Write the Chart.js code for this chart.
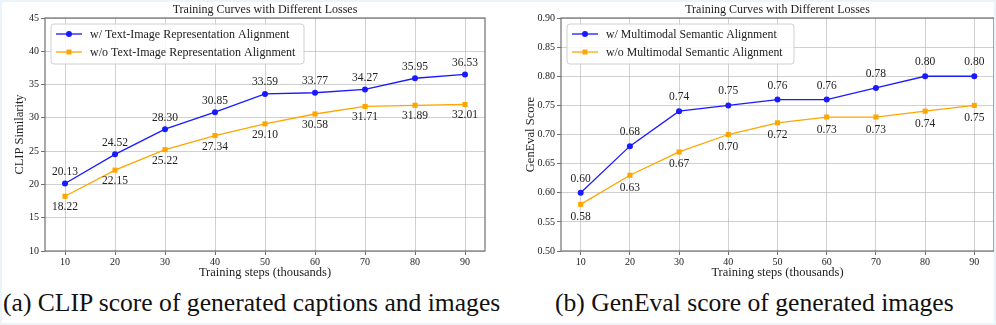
<!DOCTYPE html>
<html>
<head>
<meta charset="utf-8">
<script src="https://cdn.jsdelivr.net/npm/chart.js@4.4.1/dist/chart.umd.min.js"></script>
<style>
  html, body { margin: 0; padding: 0; background: #fff; }
  #frame { position: relative; width: 996px; height: 325px; box-sizing: border-box; border: 2px solid #eaf5fb; overflow: hidden; }
  .box { position: absolute; top: 0; height: 285px; }
  #boxA { left: 0; width: 496px; }
  #boxB { left: 496px; width: 500px; }
  .cap { position: absolute; top: 286px; font-family: "Liberation Serif", "Times New Roman", serif; font-size: 25.6px; color: #111; white-space: nowrap; }
  #capA { left: 1px; }
  #capB { left: 553px; }
</style>
</head>
<body>
<div id="frame">
  <div class="box" id="boxA"><canvas id="chartA"></canvas></div>
  <div class="box" id="boxB"><canvas id="chartB"></canvas></div>
  <div class="cap" id="capA">(a) CLIP score of generated captions and images</div>
  <div class="cap" id="capB">(b) GenEval score of generated images</div>
</div>
<script>
const steps = [10, 20, 30, 40, 50, 60, 70, 80, 90];

const clipWith = [20.13, 24.52, 28.30, 30.85, 33.59, 33.77, 34.27, 35.95, 36.53];
const clipWithout = [18.22, 22.15, 25.22, 27.34, 29.10, 30.58, 31.71, 31.89, 32.01];

const genevalWith = [0.60, 0.68, 0.74, 0.75, 0.76, 0.76, 0.78, 0.80, 0.80];
const genevalWithout = [0.58, 0.63, 0.67, 0.70, 0.72, 0.73, 0.73, 0.74, 0.75];

const FONT = "'Liberation Serif', 'Times New Roman', serif";
const BLUE = "#1a1aff";
const ORANGE = "#ffa500";
const GRID = "rgba(170,170,170,0.55)";
const SPINE = "#707070";
const TEXT = "#222";

const toPoints = vals => vals.map((v, i) => ({ x: steps[i], y: v }));

// title, spines, value labels and the legend box
const decorPlugin = {
  id: "decor",
  beforeDatasetsDraw(chart) {
    const { ctx, chartArea: a } = chart;
    ctx.save();
    ctx.strokeStyle = SPINE;
    ctx.lineWidth = 1.2;
    ctx.strokeRect(a.left, a.top, a.right - a.left, a.bottom - a.top);
    ctx.restore();
  },
  afterDatasetsDraw(chart, args, opts) {
    const { ctx, chartArea: a } = chart;
    ctx.save();
    // title
    ctx.fillStyle = TEXT;
    ctx.font = "12px " + FONT;
    ctx.textAlign = "center";
    ctx.textBaseline = "middle";
    ctx.fillText(opts.title, (a.left + a.right) / 2, 8);

    // value labels
    ctx.font = "11.5px " + FONT;
    chart.data.datasets.forEach((ds, di) => {
      const meta = chart.getDatasetMeta(di);
      const off = opts.offsets[di];
      meta.data.forEach((pt, i) => {
        ctx.fillText(ds.data[i].y.toFixed(2), pt.x, pt.y + off);
      });
    });

    // legend
    const L = opts.legend;
    ctx.fillStyle = "rgba(255,255,255,0.85)";
    ctx.strokeStyle = "#d0d0d0";
    ctx.lineWidth = 1;
    ctx.beginPath();
    ctx.roundRect(L.x, L.y, L.w, L.h, 3);
    ctx.fill();
    ctx.stroke();
    ctx.font = L.size + "px " + FONT;
    ctx.textAlign = "left";
    chart.data.datasets.forEach((ds, di) => {
      const y = L.y + 10 + di * 18;
      const x0 = L.x + 5;
      ctx.strokeStyle = ds.borderColor;
      ctx.lineWidth = 1.3;
      ctx.beginPath();
      ctx.moveTo(x0, y);
      ctx.lineTo(x0 + 26, y);
      ctx.stroke();
      ctx.fillStyle = ds.borderColor;
      if (ds.pointStyle === "rect") {
        ctx.fillRect(x0 + 13 - 2.5, y - 2.5, 5, 5);
      } else {
        ctx.beginPath();
        ctx.arc(x0 + 13, y, 3, 0, Math.PI * 2);
        ctx.fill();
      }
      ctx.fillStyle = TEXT;
      ctx.fillText(ds.label, L.x + 39, y + 0.5);
    });
    ctx.restore();
  }
};

function makeChart(id, cfg) {
  return new Chart(document.getElementById(id), {
    type: "line",
    data: {
      datasets: [
        {
          label: cfg.labels[0],
          data: toPoints(cfg.withVals),
          borderColor: BLUE,
          backgroundColor: BLUE,
          borderWidth: 1.3,
          pointStyle: "circle",
          pointRadius: 3,
          pointBorderWidth: 0,
          tension: 0
        },
        {
          label: cfg.labels[1],
          data: toPoints(cfg.withoutVals),
          borderColor: ORANGE,
          backgroundColor: ORANGE,
          borderWidth: 1.3,
          pointStyle: "rect",
          pointRadius: 3.6,
          pointBorderWidth: 0,
          tension: 0
        }
      ]
    },
    options: {
      responsive: true,
      maintainAspectRatio: false,
      animation: false,
      layout: { padding: { top: 16, right: cfg.padRight, bottom: 0, left: 0 } },
      plugins: {
        legend: { display: false },
        tooltip: { enabled: false },
        decor: { title: "Training Curves with Different Losses", offsets: cfg.offsets, legend: cfg.legend }
      },
      scales: {
        x: {
          type: "linear",
          min: 6,
          max: 94,
          afterBuildTicks: s => { s.ticks = steps.map(v => ({ value: v })); },
          afterFit: s => { s.height = 36; },
          grid: { color: GRID, borderDash: [3, 2], tickColor: SPINE, tickLength: 4, tickBorderDash: [] },
          border: { display: false },
          ticks: { padding: 1, color: TEXT, font: { family: FONT, size: 10 }, maxRotation: 0 },
          title: { display: true, text: "Training steps (thousands)", color: TEXT, font: { family: FONT, size: 12.5 }, padding: { top: 0, bottom: 7 } }
        },
        y: {
          min: cfg.yMin,
          max: cfg.yMax,
          afterBuildTicks: s => { s.ticks = cfg.yTicks.map(v => ({ value: v })); },
          afterFit: s => { s.width = cfg.yWidth; },
          grid: { color: GRID, borderDash: [3, 2], tickColor: SPINE, tickLength: 4, tickBorderDash: [] },
          border: { display: false },
          ticks: { padding: 2, color: TEXT, font: { family: FONT, size: 10 }, callback: cfg.yFmt },
          title: { display: true, text: cfg.yTitle, color: TEXT, font: { family: FONT, size: 12.5 }, padding: { top: cfg.yTitlePad, bottom: 0 } }
        }
      }
    },
    plugins: [decorPlugin]
  });
}

const clipTicks = [10, 15, 20, 25, 30, 35, 40, 45];
const genevalTicks = [0.50, 0.55, 0.60, 0.65, 0.70, 0.75, 0.80, 0.85, 0.90];

makeChart("chartA", {
  labels: ["w/ Text-Image Representation Alignment", "w/o Text-Image Representation Alignment"],
  withVals: clipWith,
  withoutVals: clipWithout,
  yMin: 10, yMax: 45, yTicks: clipTicks,
  yFmt: v => String(v),
  yTitle: "CLIP Similarity",
  yWidth: 43, yTitlePad: 10, padRight: 13,
  offsets: [-11.5, 11],
  legend: { x: 49, y: 22, w: 253, h: 40, size: 12 }
});

makeChart("chartB", {
  labels: ["w/ Multimodal Semantic Alignment", "w/o Multimodal Semantic Alignment"],
  withVals: genevalWith,
  withoutVals: genevalWithout,
  yMin: 0.5, yMax: 0.9, yTicks: genevalTicks,
  yFmt: v => v.toFixed(2),
  yTitle: "GenEval Score",
  yWidth: 63, yTitlePad: 25, padRight: 3,
  offsets: [-14, 12.5],
  legend: { x: 69, y: 22, w: 227, h: 40, size: 11.8 }
});
</script>
</body>
</html>
